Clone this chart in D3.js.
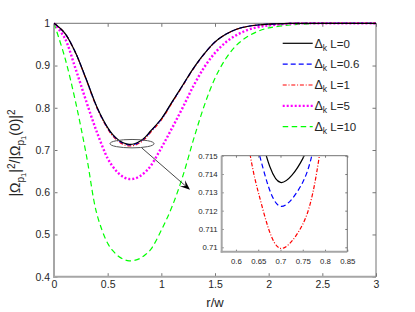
<!DOCTYPE html>
<html>
<head>
<meta charset="utf-8">
<script src="https://cdn.jsdelivr.net/npm/d3@7"></script>
<style>
body { margin: 0; background: #fff; }
svg { display: block; font-family: "Liberation Sans", Arial, sans-serif; }
</style>
</head>
<body>
<div id="vis"></div>
<script>
var width = 415;
var height = 312;

// r/w sample points shared by every curve
var rw = [0, 0.1, 0.2, 0.3, 0.4, 0.5, 0.55, 0.6, 0.65, 0.7, 0.75, 0.8, 0.85, 0.9,
          1.0, 1.1, 1.2, 1.3, 1.4, 1.5, 1.6, 1.7, 1.8, 1.9, 2.0, 2.2, 2.4, 2.6, 2.8, 3.0];
// |Omega_p1|^2/|Omega_p1(0)|^2
var dkL0  = [1, 0.977, 0.931, 0.868, 0.802, 0.753, 0.73572, 0.72398, 0.71658, 0.71354, 0.71484, 0.7205, 0.7305, 0.745,
             0.774, 0.814, 0.854, 0.894, 0.928, 0.956, 0.974, 0.986, 0.9925, 0.996, 0.998, 0.9997, 1, 1, 1, 1];
var dkL06 = [1, 0.9769, 0.9307, 0.8674, 0.8011, 0.7519, 0.73452, 0.72273, 0.71529, 0.71224, 0.71355, 0.71923, 0.72928, 0.74385,
             0.773, 0.8131, 0.8533, 0.8935, 0.9277, 0.9558, 0.9739, 0.9859, 0.9925, 0.996, 0.998, 0.9997, 1, 1, 1, 1];
var dkL1  = [1, 0.9767, 0.9301, 0.8663, 0.7995, 0.7499, 0.7324, 0.72051, 0.71302, 0.70994, 0.71126, 0.71699, 0.72712, 0.7418,
             0.7712, 0.8117, 0.8522, 0.8927, 0.9271, 0.9554, 0.9737, 0.9858, 0.9924, 0.996, 0.998, 0.9997, 1, 1, 1, 1];
var dkL5  = [1, 0.965, 0.893, 0.8155, 0.742, 0.68, 0.66, 0.645, 0.6355, 0.6312, 0.6322, 0.638, 0.648, 0.662,
             0.705, 0.752, 0.801, 0.852, 0.896, 0.93, 0.955, 0.972, 0.984, 0.991, 0.995, 0.999, 1, 1, 1, 1];
var dkL10 = [1, 0.92, 0.815, 0.69, 0.548, 0.479, 0.461, 0.4485, 0.441, 0.4375, 0.4385, 0.443, 0.452, 0.464,
             0.51, 0.566, 0.638, 0.725, 0.805, 0.87, 0.916, 0.948, 0.968, 0.981, 0.989, 0.996, 0.999, 1, 1, 1];
var seriesLabels = ["0", "0.6", "1", "5", "10"];

var xTicks = [0, 0.5, 1, 1.5, 2, 2.5, 3];
var yTicks = [0.4, 0.5, 0.6, 0.7, 0.8, 0.9, 1];
var xTicksInset = [0.6, 0.65, 0.7, 0.75, 0.8, 0.85];
var yTicksInset = [0.71, 0.711, 0.712, 0.713, 0.714, 0.715];

// line styles in legend order
var styles = [
  {color: "#000000", w: 1.2, dash: null},
  {color: "#0000ff", w: 1.2, dash: "5,3"},
  {color: "#ff0000", w: 1.2, dash: "4,1.8,1,1.8"},
  {color: "#ff00ff", w: 2.4, dash: "2,2"},
  {color: "#00ff00", w: 1.2, dash: "5.5,3.5"}
];
var allSeries = [dkL0, dkL06, dkL1, dkL5, dkL10];
var drawOrder = [4, 3, 2, 1, 0];

var svg = d3.select("#vis").append("svg").attr("width", width).attr("height", height);
svg.append("rect").attr("width", width).attr("height", height).attr("fill", "#fff");

var defs = svg.append("defs");

// main axes
var plotL = 54, plotR = 376, plotT = 23.3, plotB = 276.7;
var x = d3.scaleLinear().domain([0, 3]).range([plotL, plotR]);
var y = d3.scaleLinear().domain([0.4, 1]).range([plotB, plotT]);

// inset axes
var inL = 221.7, inR = 347.3, inT = 155.7, inB = 251.7;
var xi = d3.scaleLinear().domain([0.568, 0.85]).range([inL, inR]);
var yi = d3.scaleLinear().domain([0.70976, 0.715]).range([inB, inT]);

function drawFrame(xs, ys, xt, yt, fs, tick, padX, padY) {
  var r = xs.range(), t = ys.range();
  var g = svg.append("g");
  var fmt = d3.format("");
  g.append("g").attr("transform", "translate(0," + t[0] + ")")
    .call(d3.axisBottom(xs).tickValues(xt).tickSize(-tick).tickPadding(padX).tickFormat(fmt));
  g.append("g").attr("transform", "translate(0," + t[1] + ")")
    .call(d3.axisTop(xs).tickValues(xt).tickSize(-tick).tickFormat(""));
  g.append("g").attr("transform", "translate(" + r[0] + ",0)")
    .call(d3.axisLeft(ys).tickValues(yt).tickSize(-tick).tickPadding(padY).tickFormat(fmt));
  g.append("g").attr("transform", "translate(" + r[1] + ",0)")
    .call(d3.axisRight(ys).tickValues(yt).tickSize(-tick).tickFormat(""));
  g.selectAll(".domain").remove();
  g.selectAll(".tick line").attr("stroke", "#555").attr("stroke-width", 0.8);
  g.selectAll(".tick text").attr("fill", "#262626").attr("font-size", fs)
    .attr("font-family", "'Liberation Sans', Arial, sans-serif");
  g.attr("font-size", fs).attr("font-family", "'Liberation Sans', Arial, sans-serif");
  // box: left/bottom soft and wide, top/right thin and darker
  g.append("line").attr("x1", r[0]).attr("x2", r[0]).attr("y1", t[1]).attr("y2", t[0] + 1)
    .attr("stroke", "#a6a6a6").attr("stroke-width", 2);
  g.append("line").attr("x1", r[0] - 1).attr("x2", r[1]).attr("y1", t[0]).attr("y2", t[0])
    .attr("stroke", "#a6a6a6").attr("stroke-width", 2);
  g.append("line").attr("x1", r[0]).attr("x2", r[1]).attr("y1", t[1]).attr("y2", t[1])
    .attr("stroke", "#737373").attr("stroke-width", 1);
  g.append("line").attr("x1", r[1]).attr("x2", r[1]).attr("y1", t[1]).attr("y2", t[0])
    .attr("stroke", "#737373").attr("stroke-width", 1);
  return g;
}

function drawCurves(xs, ys, clipId, x0, y0, w, h) {
  defs.append("clipPath").attr("id", clipId).append("rect")
    .attr("x", x0).attr("y", y0).attr("width", w).attr("height", h);
  var g = svg.append("g").attr("clip-path", "url(#" + clipId + ")");
  var line = d3.line()
    .x(function(d, i) { return xs(rw[i]); })
    .y(function(d) { return ys(d); })
    .curve(d3.curveCatmullRom.alpha(0.5));
  drawOrder.forEach(function(k) {
    g.append("path")
      .attr("d", line(allSeries[k]))
      .attr("fill", "none")
      .attr("stroke", styles[k].color)
      .attr("stroke-width", styles[k].w)
      .attr("stroke-dasharray", styles[k].dash);
  });
}

drawFrame(x, y, xTicks, yTicks, 10.5, 3.5, 4, 4);
drawCurves(x, y, "clipMain", plotL, plotT - 2, plotR - plotL, plotB - plotT + 2);

// ellipse marking the zoomed region and the arrow to the inset
var ell = {r: 0.727, v: 0.715, dr: 0.205, dv: 0.00995};
svg.append("ellipse")
  .attr("cx", x(ell.r)).attr("cy", y(ell.v))
  .attr("rx", x(ell.r + ell.dr) - x(ell.r)).attr("ry", y(ell.v - ell.dv) - y(ell.v))
  .attr("fill", "none").attr("stroke", "#555").attr("stroke-width", 1);

var arrowFrom = {r: 0.817, v: 0.7051}, arrowTo = {r: 1.267, v: 0.6057};
var ax0 = x(arrowFrom.r), ay0 = y(arrowFrom.v), ax1 = x(arrowTo.r), ay1 = y(arrowTo.v);
var len = Math.hypot(ax1 - ax0, ay1 - ay0);
var ux = (ax1 - ax0) / len, uy = (ay1 - ay0) / len;
var nx = -uy, ny = ux;
var headL = 10, headW = 8;
svg.append("line")
  .attr("x1", ax0).attr("y1", ay0).attr("x2", ax1 - ux * 6).attr("y2", ay1 - uy * 6)
  .attr("stroke", "#333").attr("stroke-width", 0.9);
var head = [
  [ax1, ay1],
  [ax1 - headL * ux + headW / 2 * nx, ay1 - headL * uy + headW / 2 * ny],
  [ax1 - headL * 0.6 * ux, ay1 - headL * 0.6 * uy],
  [ax1 - headL * ux - headW / 2 * nx, ay1 - headL * uy - headW / 2 * ny]
];
svg.append("path").attr("d", "M" + head.join("L") + "Z").attr("fill", "#000");

// inset
svg.append("rect").attr("x", inL).attr("y", inT).attr("width", inR - inL).attr("height", inB - inT)
  .attr("fill", "#fff");
drawCurves(xi, yi, "clipInset", inL, inT, inR - inL, inB - inT);
drawFrame(xi, yi, xTicksInset, yTicksInset, 7.8, 2, 7, 4);

// legend, no box
var legX0 = 282.7, legX1 = 312.7, legY0 = 43.3, legStep = 20.85;
seriesLabels.forEach(function(lab, i) {
  var yy = legY0 + i * legStep;
  svg.append("line")
    .attr("x1", legX0).attr("x2", legX1).attr("y1", yy).attr("y2", yy)
    .attr("stroke", styles[i].color).attr("stroke-width", styles[i].w)
    .attr("stroke-dasharray", styles[i].dash);
  var t = svg.append("text").attr("x", legX1 + 1.8).attr("y", yy + 4.2)
    .attr("fill", "#262626").attr("font-size", 12.5);
  t.append("tspan").text("Δ");
  t.append("tspan").attr("font-size", 8.5).attr("dy", 3).text("k");
  t.append("tspan").attr("font-size", 11.5).attr("dy", -3).text(" L=" + lab);
});

// axis labels
svg.append("text").attr("x", (plotL + plotR) / 2).attr("y", 307)
  .attr("text-anchor", "middle").attr("font-size", 13).attr("fill", "#262626").text("r/w");

var yl = svg.append("text").attr("transform", "translate(20,153) rotate(-90)")
  .attr("text-anchor", "middle").attr("font-size", 14).attr("fill", "#262626");
[["|Ω", 14, 0], ["p", 10, 3.5], ["1", 7.5, 2.5], ["|", 14, -6], ["2", 10, -5.5],
 ["/|Ω", 14, 5.5], ["p", 10, 3.5], ["1", 7.5, 2.5], ["(0)|", 14, -6], ["2", 10, -5.5]]
  .forEach(function(p) {
    yl.append("tspan").attr("font-size", p[1]).attr("dy", p[2]).text(p[0]);
  });
</script>
</body>
</html>
